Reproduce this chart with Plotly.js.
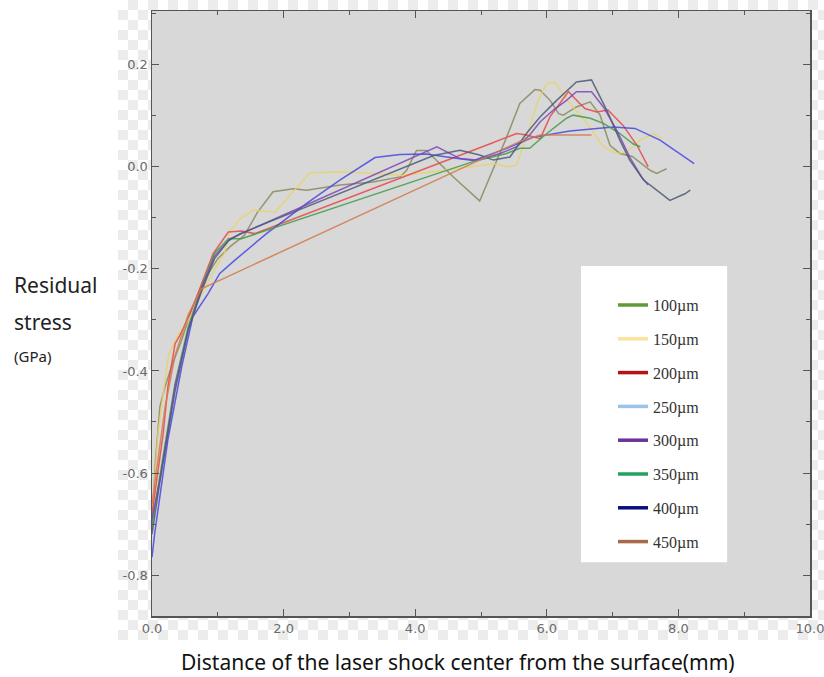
<!DOCTYPE html>
<html><head><meta charset="utf-8">
<script src="https://cdn.plot.ly/plotly-3.0.1.min.js"></script>
<style>
html,body{margin:0;padding:0;background:#fff;}
#wrap{position:relative;width:824px;height:677px;overflow:hidden;}
#checker{position:absolute;left:118px;top:0;width:706px;height:640px;
background-color:#fff;
background-image:linear-gradient(45deg,#ececec 25%,transparent 25%,transparent 75%,#ececec 75%),linear-gradient(45deg,#ececec 25%,transparent 25%,transparent 75%,#ececec 75%);
background-size:20px 20px;background-position:0 0,10px 10px;}
#chart{position:absolute;left:0;top:0;width:824px;height:677px;}
</style></head>
<body><div id="wrap"><div id="checker"></div><div id="chart"></div></div>
<script>
// Series (distance in mm, residual stress in GPa)
const olive_x=[0,0.05,0.12,0.2,0.3,0.45,0.6,0.8,1.0,1.2,1.4,1.6,1.84,2.15,2.35,2.86,3.36,3.77,3.87,4.02,4.17,4.58,4.98,5.39,5.59,5.82,5.90,6.05,6.18,6.25,6.45,6.66,6.81,6.96,7.11,7.3,7.57,7.67,7.82];
const olive_y=[-0.713,-0.58,-0.47,-0.43,-0.39,-0.34,-0.28,-0.22,-0.18,-0.155,-0.135,-0.09,-0.049,-0.043,-0.046,-0.036,-0.030,-0.020,-0.007,0.032,0.032,-0.020,-0.067,0.058,0.124,0.151,0.150,0.130,0.104,0.101,0.117,0.127,0.101,0.042,0.026,0.02,-0.007,-0.013,-0.004];
const yellow_x=[0,0.02,0.09,0.17,0.24,0.27,0.4,0.55,0.70,1.0,1.10,1.19,1.34,1.54,1.87,2.40,2.96,3.82,4.38,4.88,5.19,5.39,5.54,5.69,5.85,6.00,6.12,6.35,6.61,6.86,7.06,7.21,7.42,7.62,7.75];
const yellow_y=[-0.68,-0.654,-0.523,-0.445,-0.379,-0.363,-0.33,-0.30,-0.262,-0.19,-0.17,-0.125,-0.102,-0.085,-0.089,-0.012,-0.010,-0.017,-0.008,0.0,0.006,0.0,0.003,0.058,0.124,0.163,0.166,0.124,0.085,0.039,0.026,0.029,0.052,0.065,0.055];
const red_x=[0,0.04,0.17,0.24,0.35,0.45,0.60,0.93,1.16,1.36,1.56,5.14,5.54,5.69,5.90,6.05,6.33,6.50,6.58,6.76,6.93,7.16,7.37,7.54];
const red_y=[-0.68,-0.641,-0.523,-0.432,-0.347,-0.324,-0.281,-0.170,-0.128,-0.126,-0.131,0.045,0.065,0.062,0.055,0.098,0.147,0.124,0.114,0.107,0.111,0.081,0.042,0.0];
const blue_x=[0,0.04,0.24,0.45,0.62,0.85,1.03,1.26,1.74,2.35,2.86,3.39,3.77,4.17,4.48,4.88,5.39,5.80,6.35,7.01,7.34,7.72,8.13,8.24];
const blue_y=[-0.765,-0.719,-0.536,-0.393,-0.294,-0.249,-0.209,-0.183,-0.131,-0.072,-0.026,0.018,0.024,0.025,0.019,0.012,0.036,0.058,0.070,0.078,0.075,0.052,0.016,0.006];
const green_x=[0,0.14,0.35,0.55,0.75,0.95,1.16,1.36,4.88,5.39,5.59,5.74,6.00,6.30,6.40,6.66,6.86,7.11,7.31,7.42];
const green_y=[-0.70,-0.589,-0.425,-0.314,-0.236,-0.170,-0.141,-0.141,0.010,0.026,0.036,0.036,0.065,0.095,0.101,0.095,0.085,0.065,0.045,0.039];
const purple_x=[0,0.14,0.35,0.55,0.75,0.95,1.19,4.33,4.68,4.93,5.29,5.54,5.74,5.90,6.10,6.30,6.45,6.68,6.86,7.06,7.26,7.44,7.54];
const purple_y=[-0.69,-0.60,-0.43,-0.32,-0.24,-0.175,-0.141,0.039,0.016,0.013,0.026,0.039,0.062,0.088,0.111,0.130,0.147,0.147,0.117,0.072,0.019,-0.020,-0.036];
const slate_x=[0,0.14,0.35,0.55,0.75,0.95,1.16,1.34,4.28,4.68,4.98,5.19,5.44,5.69,5.90,6.15,6.45,6.68,6.91,7.11,7.26,7.47,7.67,7.87,8.10,8.18];
const slate_y=[-0.72,-0.60,-0.44,-0.32,-0.245,-0.18,-0.145,-0.131,0.022,0.032,0.023,0.013,0.019,0.065,0.098,0.130,0.166,0.170,0.111,0.052,0.013,-0.026,-0.046,-0.066,-0.053,-0.046];
const orange_x=[0,0.1,0.2,0.35,0.55,0.75,5.29,5.6,5.9,6.68];
const orange_y=[-0.66,-0.57,-0.47,-0.37,-0.29,-0.239,0.032,0.05,0.062,0.062];

const legendNames=["100µm","150µm","200µm","250µm","300µm","350µm","400µm","450µm"];
const legendColors=["#5f9a38","#fbe39a","#b31217","#9dc3e6","#6b3399","#23a35f","#0c0c82","#a86a48"];

const yTickVals=[-0.8,-0.6,-0.4,-0.2,0.0,0.2];
const yTickText=["-0.8","-0.6","-0.4","-0.2","0.0","0.2"];
const xTickVals=[0,2,4,6,8,10];
const xTickText=["0.0","2.0","4.0","6.0","8.0","10.0"];

const series=[
 [olive_x,olive_y,"#8a8a5e"],[yellow_x,yellow_y,"#e6d46c"],[red_x,red_y,"#e64646"],
 [blue_x,blue_y,"#4646e0"],[green_x,green_y,"#3f9c46"],[purple_x,purple_y,"#7c45b8"],
 [slate_x,slate_y,"#4a5a74"],[orange_x,orange_y,"#d27a4c"]
];
const traces=series.map((s,i)=>({x:s[0],y:s[1],type:'scatter',mode:'lines',
 line:{color:s[2],width:1.5},opacity:0.85,showlegend:false,hoverinfo:'skip'}));
legendNames.forEach((n,i)=>traces.push({x:[null],y:[null],type:'scatter',mode:'lines',
 name:n,legendgroup:'g'+i,line:{color:legendColors[i],width:3.5},showlegend:true}));

const tickFont={family:'DejaVu Sans, sans-serif',size:13,color:'#6a6a6a'};
const layout={
 width:824,height:677,paper_bgcolor:'rgba(0,0,0,0)',plot_bgcolor:'#d8d8d8',
 margin:{l:152,r:14,t:11,b:61},
 showlegend:true,
 xaxis:{range:[0,10],tickmode:'array',tickvals:xTickVals,ticktext:xTickText,ticks:'inside',ticklen:7,
   tickcolor:'#555',showgrid:false,zeroline:false,showline:true,linecolor:'#555',linewidth:1.5,mirror:'ticks',
   ticklabeloverflow:'allow',
   tickfont:tickFont,minor:{dtick:1,tick0:0,ticks:'inside',ticklen:4,tickcolor:'#555',showgrid:false}},
 yaxis:{range:[-0.88,0.305],tickmode:'array',tickvals:yTickVals,ticktext:yTickText,ticks:'inside',ticklen:7,
   tickcolor:'#555',showgrid:false,zeroline:false,showline:true,linecolor:'#555',linewidth:1.5,mirror:'ticks',
   tickfont:tickFont,minor:{dtick:0.1,tick0:0,ticks:'inside',ticklen:4,tickcolor:'#555',showgrid:false}},
 legend:{x:0.7006,y:0.542,xanchor:'left',yanchor:'top',bgcolor:'rgba(0,0,0,0)',borderwidth:0,
   font:{family:'Liberation Serif, serif',size:16,color:'#333'},tracegroupgap:10,itemwidth:30},
 shapes:[{type:'rect',xref:'paper',yref:'paper',x0:0.652,x1:0.874,y0:0.089,y1:0.5785,
   fillcolor:'#ffffff',line:{width:0},layer:'above'}],
 annotations:[
  {text:'Residual',xref:'paper',yref:'paper',x:-0.2128,y:0.547,xanchor:'left',yanchor:'middle',showarrow:false,
   font:{family:'Noto Sans, sans-serif',size:21,color:'#222'}},
  {text:'stress',xref:'paper',yref:'paper',x:-0.2128,y:0.486,xanchor:'left',yanchor:'middle',showarrow:false,
   font:{family:'Noto Sans, sans-serif',size:21,color:'#222'}},
  {text:'(GPa)',xref:'paper',yref:'paper',x:-0.2128,y:0.429,xanchor:'left',yanchor:'middle',showarrow:false,
   font:{family:'Noto Sans, sans-serif',size:15,color:'#222'}},
  {text:'Distance of the laser shock center from the surface(mm)',xref:'paper',yref:'paper',x:0.465,y:-0.076,
   xanchor:'center',yanchor:'middle',showarrow:false,font:{family:'Noto Sans, sans-serif',size:21,color:'#111'}}
 ]
};
Plotly.newPlot('chart',traces,layout,{displayModeBar:false,staticPlot:true});
</script></body></html>
